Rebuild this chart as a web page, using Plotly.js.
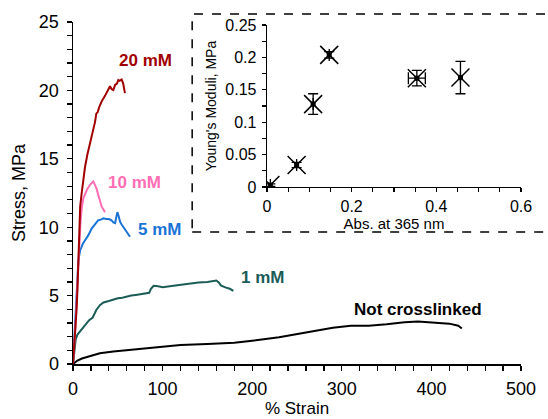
<!DOCTYPE html>
<html><head><meta charset="utf-8">
<script src="https://cdn.plot.ly/plotly-3.0.1.min.js"></script>
<style>html,body{margin:0;padding:0;background:#fff}#chart{width:548px;height:419px}</style>
</head><body><div id="chart"></div>
<script>
// Main stress-strain curves
const strainNC = [0,5,10,20,30,45,60,80,100,120,150,180,200,230,260,290,310,330,350,370,385,400,420,430,434];
const stressNC = [0,0.25,0.4,0.6,0.78,0.92,1.02,1.15,1.28,1.38,1.46,1.55,1.7,1.95,2.3,2.65,2.8,2.8,2.9,3.05,3.1,3.05,2.95,2.8,2.6];
const strain1 = [0,1,2,3,5,8,12,15,18,22,24,26,30,34,40,45,50,55,60,65,70,75,80,85,87,90,95,100,110,120,130,140,150,160,163,165,170,175,179];
const stress1 = [0,0.6,1.3,1.8,2.15,2.4,2.7,3.0,3.2,3.4,3.7,3.95,4.3,4.5,4.6,4.72,4.8,4.85,4.95,5.0,5.05,5.1,5.2,5.2,5.5,5.72,5.68,5.62,5.7,5.8,5.85,5.95,6.0,6.1,5.95,5.75,5.6,5.5,5.35];
const strain5 = [0,1.5,3,4.5,6,8,11,14,17,20.8,24,28,31,34,37,40,43,45,47,48.5,49.5,51,52.5,54.3,57,60,63.6];
const stress5 = [0,2,4.5,6.5,7.6,8.3,8.8,9.1,9.4,9.9,10.2,10.5,10.55,10.65,10.6,10.6,10.5,10.35,10.3,10.7,11.1,10.8,10.4,10.2,9.95,9.7,9.3];
const strain10 = [0,3,5,7,8.5,10,11.5,13.4,16,19,21,22.7,24.5,26.4,28,30,32,34,35.7];
const stress10 = [0,3,6,9,10.5,11.5,12.1,12.4,12.8,13.1,13.2,13.35,13.1,12.8,12.4,12,11.5,11.3,11.1];
const strain20 = [0,2,4,5,6.5,8,9.7,11.5,13.4,16,19,21,24.6,26,27.5,29.4,32,35.7,38,40,41.3,43,45,47,49,50.6,52,54.3,56,58];
const stress20 = [0,1.8,4,5.5,8.5,11.5,12.5,13.6,14.4,15.3,16.1,16.7,17.7,18.3,18.4,18.8,19.2,19.6,19.9,20.1,20.3,20.1,20.03,20.4,20.5,20.76,20.7,20.8,20.5,19.8];

// Inset: Young's moduli vs absorbance
const absVals = [0.008,0.07,0.109,0.147,0.354,0.457];
const modVals = [0.003,0.034,0.128,0.204,0.168,0.169];
const modErr = [0.002,0.004,0.016,0.005,0.012,0.025];
const absErr = [0,0,0,0,0.02,0];

const seriesLabels = ['Not crosslinked','1 mM','5 mM','10 mM','20 mM'];
const colNC = '#000000', col1 = '#1b5c56', col5 = '#1a74d6', col10 = '#ff6eb4', col20 = '#a10000';

const FONT = 'Arial, "Liberation Sans", sans-serif';
const lw = 2;
const traces = [
  {x: strainNC, y: stressNC, mode:'lines', line:{color:colNC, width:lw}, xaxis:'x', yaxis:'y'},
  {x: strain1, y: stress1, mode:'lines', line:{color:col1, width:lw}, xaxis:'x', yaxis:'y'},
  {x: strain5, y: stress5, mode:'lines', line:{color:col5, width:lw}, xaxis:'x', yaxis:'y'},
  {x: strain10, y: stress10, mode:'lines', line:{color:col10, width:lw}, xaxis:'x', yaxis:'y'},
  {x: strain20, y: stress20, mode:'lines', line:{color:col20, width:lw}, xaxis:'x', yaxis:'y'},
  {x: absVals, y: modVals, mode:'markers', xaxis:'x2', yaxis:'y2',
   marker:{symbol:'x-thin-open', size:18, color:'#000', line:{color:'#000', width:1.5}},
   error_y:{type:'data', array:modErr, visible:true, color:'#000', thickness:1.3, width:5},
   error_x:{type:'data', array:absErr, visible:true, color:'#000', thickness:1.3, width:6}},
  {x: absVals, y: modVals, mode:'markers', xaxis:'x2', yaxis:'y2',
   marker:{symbol:'square', size:5, color:'#000'}}
];

const labelPos = [[385,3.95],[211,6.34],[96,9.8],[69,13.3],[81,22.15]];
const labelCols = [colNC,col1,col5,col10,col20];
const annotations = seriesLabels.map((t,i)=>({
  text:'<b>'+t+'</b>', x:labelPos[i][0], y:labelPos[i][1], xref:'x', yref:'y',
  showarrow:false, font:{family:FONT, size:17, color:labelCols[i]}, xanchor:'center', yanchor:'middle'
}));

const layout = {
  width:548, height:419,
  margin:{l:73, r:27, t:22, b:55},
  paper_bgcolor:'#fff', plot_bgcolor:'#fff',
  showlegend:false,
  font:{family:FONT, color:'#000'},
  xaxis:{range:[0,500], dtick:100, tick0:0, showline:true, linecolor:'#000', linewidth:1.5,
    ticks:'outside', ticklen:5, tickwidth:1.3, tickcolor:'#000', showgrid:false, zeroline:false, automargin:false,
    tickfont:{size:18, family:FONT}, ticklabelstandoff:3, title:{text:'% Strain', font:{size:17, family:FONT}, standoff:1},
    minor:{dtick:20, ticks:'outside', ticklen:5, tickwidth:1.3, tickcolor:'#000', showgrid:false}, fixedrange:true},
  yaxis:{range:[0,25], dtick:5, tick0:0, showline:true, linecolor:'#000', linewidth:1.5,
    ticks:'outside', ticklen:5, tickwidth:1.3, tickcolor:'#000', showgrid:false, zeroline:false, automargin:false,
    tickfont:{size:18, family:FONT}, ticklabelstandoff:4, title:{text:'Stress, MPa', font:{size:18, family:FONT}, standoff:8},
    minor:{dtick:1, ticks:'outside', ticklen:5, tickwidth:1.3, tickcolor:'#000', showgrid:false}, fixedrange:true},
  xaxis2:{domain:[0.433,1.0], anchor:'y2', range:[0,0.6], dtick:0.2, tick0:0, showline:true, linecolor:'#000', linewidth:1.3,
    ticks:'outside', ticklen:4, tickwidth:1.2, tickcolor:'#000', showgrid:false, zeroline:false, automargin:false,
    tickfont:{size:16, family:FONT}, ticklabelstandoff:0, title:{text:'Abs. at 365 nm', font:{size:15, family:FONT}, standoff:0},
    minor:{dtick:0.05, ticks:'outside', ticklen:4, tickwidth:1.2, tickcolor:'#000', showgrid:false}, fixedrange:true},
  yaxis2:{domain:[0.5175,0.991], anchor:'x2', range:[0,0.25], dtick:0.05, tick0:0, showline:true, linecolor:'#000', linewidth:1.3,
    ticks:'outside', ticklen:4, tickwidth:1.2, tickcolor:'#000', showgrid:false, zeroline:false, automargin:false,
    tickfont:{size:16, family:FONT}, ticklabelstandoff:2, title:{text:"Young's Moduli, MPa", font:{size:14, family:FONT}, standoff:5},
    minor:{dtick:0.025, ticks:'outside', ticklen:4, tickwidth:1.2, tickcolor:'#000', showgrid:false}, fixedrange:true},
  shapes:[{type:'rect', xref:'paper', yref:'paper', x0:0.266, x1:1.2, y0:(364-232)/342, y1:(364-14)/342,
    line:{color:'#000', width:1.5, dash:'dash'}, fillcolor:'rgba(0,0,0,0)', layer:'below'}],
  annotations: annotations
};
Plotly.newPlot('chart', traces, layout, {staticPlot:true, displayModeBar:false});
</script></body></html>
